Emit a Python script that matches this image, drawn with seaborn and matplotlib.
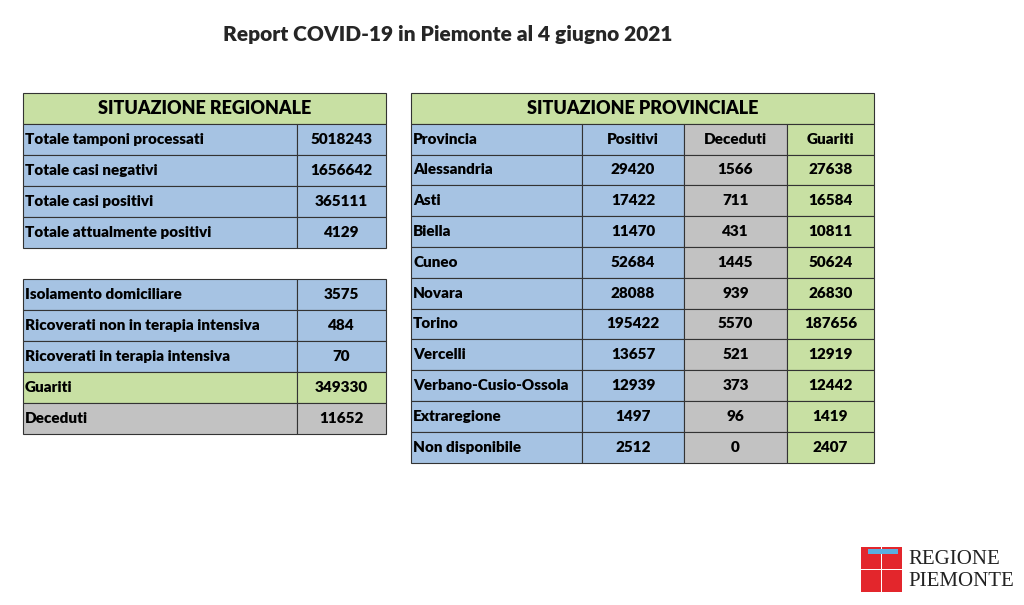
import matplotlib
matplotlib.use("Agg")
import matplotlib.pyplot as plt
import seaborn as sns
from matplotlib.patches import Rectangle

sns.set_theme(style="white")
plt.rcParams['font.family'] = ['Lato', 'DejaVu Sans']

title = "Report COVID-19 in Piemonte al 4 giugno 2021"
reg_labels = ["Totale tamponi processati", "Totale casi negativi", "Totale casi positivi", "Totale attualmente positivi"]
reg_values = [5018243, 1656642, 365111, 4129]
det_labels = ["Isolamento domiciliare", "Ricoverati non in terapia intensiva", "Ricoverati in terapia intensiva", "Guariti", "Deceduti"]
det_values = [3575, 484, 70, 349330, 11652]
province = ["Alessandria", "Asti", "Biella", "Cuneo", "Novara", "Torino", "Vercelli", "Verbano-Cusio-Ossola", "Extraregione", "Non disponibile"]
positivi = [29420, 17422, 11470, 52684, 28088, 195422, 13657, 12939, 1497, 2512]
deceduti = [1566, 711, 431, 1445, 939, 5570, 521, 373, 96, 0]
guariti = [27638, 16584, 10811, 50624, 26830, 187656, 12919, 12442, 1419, 2407]

BLUE = "#a6c3e3"
GREEN = "#c8e0a3"
GRAY = "#c2c2c2"

fig = plt.figure(figsize=(10.24, 6.05), dpi=100)
ax = fig.add_axes([0, 0, 1, 1])
ax.set_xlim(0, 1024)
ax.set_ylim(605, 0)
ax.axis("off")

def cell(x0, x1, y0, y1, color, text, ha="center", fs=11):
    ax.add_patch(Rectangle((x0, y0), x1 - x0, y1 - y0, facecolor=color, edgecolor="#333333", lw=0.8))
    if ha == "left":
        ax.text(x0 + 2, (y0 + y1) / 2, text, ha="left", va="center", fontsize=fs, fontweight="heavy", color="black")
    else:
        ax.text((x0 + x1) / 2, (y0 + y1) / 2, text, ha="center", va="center", fontsize=fs, fontweight="heavy", color="black")

ax.text(448, 35, title, ha="center", va="center", fontsize=15, fontweight="heavy")

rh = 31
cell(23, 386, 93, 124, GREEN, "SITUAZIONE REGIONALE", fs=13)
for i, (l, v) in enumerate(zip(reg_labels, reg_values)):
    y0 = 124 + i * rh
    cell(23, 297, y0, y0 + rh, BLUE, l, ha="left")
    cell(297, 386, y0, y0 + rh, BLUE, str(v))
for i, (l, v) in enumerate(zip(det_labels, det_values)):
    y0 = 279 + i * rh
    col = GREEN if l == "Guariti" else (GRAY if l == "Deceduti" else BLUE)
    cell(23, 297, y0, y0 + rh, col, l, ha="left")
    cell(297, 386, y0, y0 + rh, col, str(v))

rh2 = 30.8
cell(411, 874, 93, 93 + rh2, GREEN, "SITUAZIONE PROVINCIALE", fs=13)
xs = [411, 582, 684, 787, 874]
y0 = 93 + rh2
hdr = ["Provincia", "Positivi", "Deceduti", "Guariti"]
cols = [BLUE, BLUE, GRAY, GREEN]
for j in range(4):
    cell(xs[j], xs[j + 1], y0, y0 + rh2, cols[j], hdr[j], ha="left" if j == 0 else "center")
for i in range(len(province)):
    y = y0 + (i + 1) * rh2
    vals = [province[i], str(positivi[i]), str(deceduti[i]), str(guariti[i])]
    for j in range(4):
        cell(xs[j], xs[j + 1], y, y + rh2, cols[j], vals[j], ha="left" if j == 0 else "center")

RED = "#e3262c"
for (x, y) in [(861, 547), (882, 547), (861, 570), (882, 570)]:
    ax.add_patch(Rectangle((x, y), 20, 22, facecolor=RED, edgecolor="none"))
ax.add_patch(Rectangle((868, 549), 30, 5, facecolor="#5aaee0", edgecolor="none"))
ax.text(908, 559, "REGIONE", fontsize=15, family="Liberation Serif", va="center", ha="left", color="#222222")
ax.text(908, 581, "PIEMONTE", fontsize=15, family="Liberation Serif", va="center", ha="left", color="#222222")

fig.savefig("out.png", dpi=100, facecolor="white")
